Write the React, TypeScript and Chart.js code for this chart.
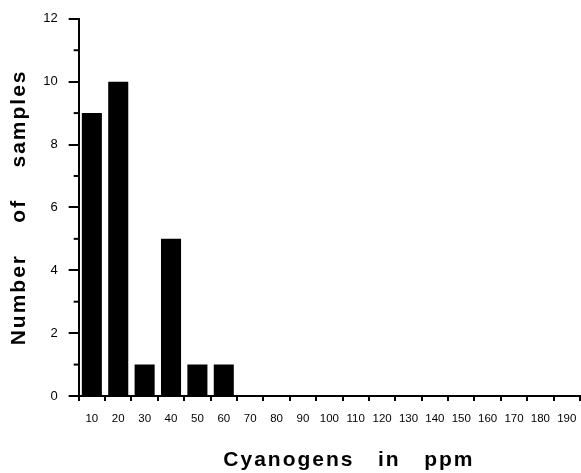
import React, { useEffect, useRef } from "react";
import { Chart, registerables, CategoryScale, LinearScale } from "chart.js";

Chart.register(...registerables);

const categories = ["10","20","30","40","50","60","70","80","90","100","110","120","130","140","150","160","170","180","190"];
const sampleCounts = [9, 10, 1, 5, 1, 1, 0, 0, 0, 0, 0, 0, 0, 0, 0, 0, 0, 0, 0];
const minorTickValues = [1, 3, 5, 7, 9, 11];

const FONT = "'Liberation Sans', Arial, Helvetica, sans-serif";
const TITLE_SPACING = "2px";

class SpacedCategoryScale extends CategoryScale {
  static id = "spacedCategory";
  static defaults = CategoryScale.defaults;
  drawTitle() {
    const ctx = (this as any).ctx;
    ctx.save();
    ctx.letterSpacing = TITLE_SPACING;
    // @ts-ignore
    super.drawTitle();
    ctx.restore();
  }
}

class SpacedLinearScale extends LinearScale {
  static id = "spacedLinear";
  static defaults = LinearScale.defaults;
  drawTitle() {
    const ctx = (this as any).ctx;
    ctx.save();
    ctx.letterSpacing = TITLE_SPACING;
    // @ts-ignore
    super.drawTitle();
    ctx.restore();
  }
}

Chart.register(SpacedCategoryScale, SpacedLinearScale);

const minorTicks = {
  id: "minorTicks",
  afterDraw(chart: any) {
    const y = chart.scales.y;
    const ctx = chart.ctx;
    ctx.save();
    ctx.strokeStyle = "#000";
    ctx.lineWidth = 2;
    const x = y.right;
    minorTickValues.forEach((v) => {
      const py = y.getPixelForValue(v);
      ctx.beginPath();
      ctx.moveTo(x - 5, py);
      ctx.lineTo(x, py);
      ctx.stroke();
    });
    ctx.restore();
  },
};

export default function App() {
  const ref = useRef<HTMLCanvasElement>(null);
  useEffect(() => {
    if (!ref.current) return;
    const chart = new Chart(ref.current, {
      type: "bar",
      data: {
        labels: categories,
        datasets: [
          {
            data: sampleCounts,
            backgroundColor: "#000",
            borderWidth: 0,
            barPercentage: 0.76,
            categoryPercentage: 1,
          },
        ],
      },
      options: {
        animation: false,
        responsive: false,
        maintainAspectRatio: false,
        layout: { padding: { top: 16, right: 1, left: 7, bottom: 0 } },
        plugins: { legend: { display: false }, tooltip: { enabled: false } },
        scales: {
          x: {
            type: "spacedCategory",
            afterFit(scale: any) {
              scale.paddingRight = 0;
              scale.paddingLeft = 0;
            },
            grid: {
              drawOnChartArea: false,
              drawTicks: true,
              tickLength: 5,
              color: "#000",
              lineWidth: 2,
              offset: true,
            },
            border: { display: true, color: "#000", width: 2 },
            ticks: {
              color: "#000",
              font: { family: FONT, size: 11.5 },
              padding: 11,
              maxRotation: 0,
              autoSkip: false,
            },
            title: {
              display: true,
              text: "     Cyanogens   in   ppm",
              color: "#000",
              font: { family: FONT, size: 21, weight: "bold" },
              padding: { top: 11, bottom: 0 },
            },
          },
          y: {
            type: "spacedLinear",
            min: 0,
            max: 12,
            grid: {
              drawOnChartArea: false,
              drawTicks: true,
              tickLength: 10,
              color: "#000",
              lineWidth: 2,
            },
            border: { display: true, color: "#000", width: 2 },
            ticks: {
              stepSize: 2,
              color: "#000",
              font: { family: FONT, size: 13 },
              padding: 11,
            },
            title: {
              display: true,
              text: "Number    of    samples",
              color: "#000",
              font: { family: FONT, size: 21, weight: "bold" },
              padding: { top: 0, bottom: 0 },
            },
          },
        },
      } as any,
      plugins: [minorTicks],
    });
    return () => chart.destroy();
  }, []);
  return (
    <div style={{ position: "fixed", left: 0, top: 0, width: 581, height: 473, background: "#fff" }}>
      <canvas ref={ref} width={581} height={473} style={{ display: "block" }} />
    </div>
  );
}
